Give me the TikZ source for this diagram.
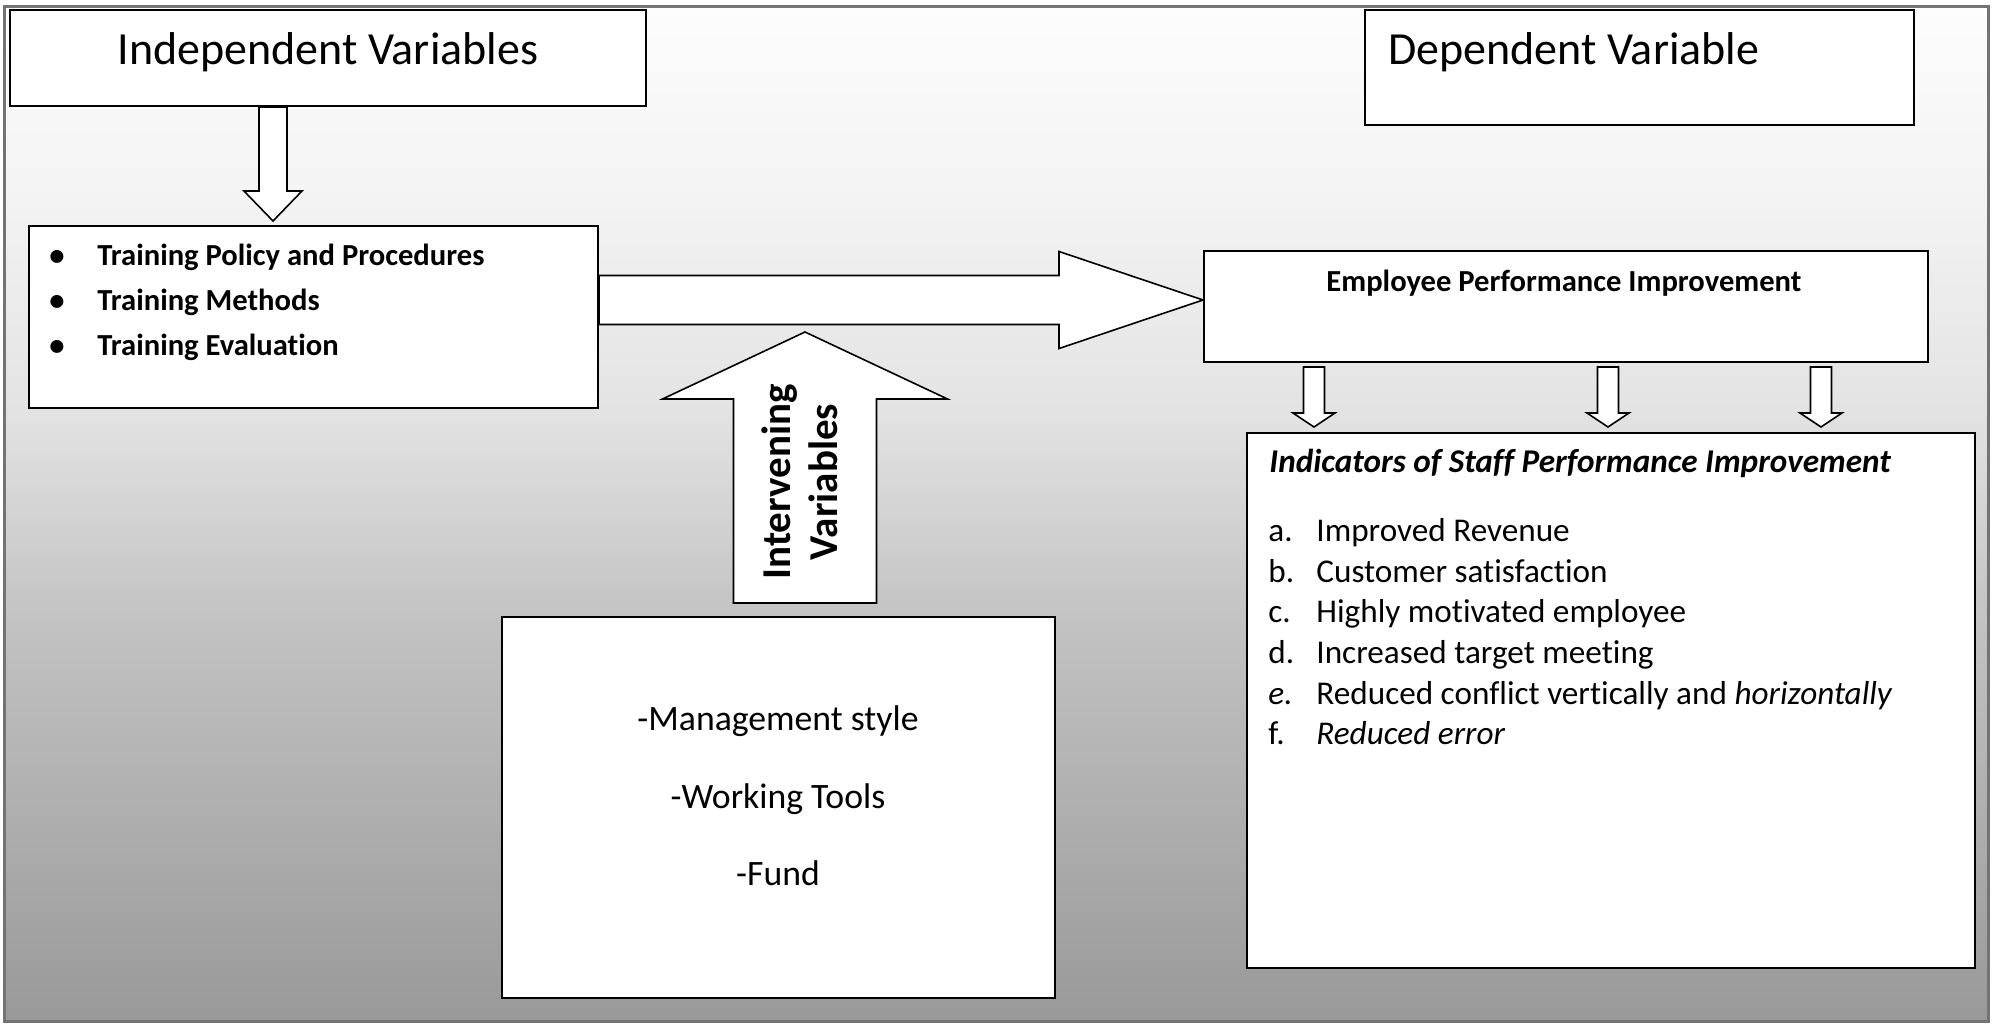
\documentclass[tikz,border=0pt]{standalone}
\usepackage{fontspec}
\setmainfont{Carlito}[Ligatures=NoCommon]
\usetikzlibrary{calc}
\definecolor{bgA}{HTML}{999999}
\definecolor{bgB}{HTML}{C3C3C3}
\definecolor{bgC}{HTML}{E3E3E3}
\definecolor{bgD}{HTML}{F3F3F3}
\definecolor{bgE}{HTML}{FDFDFD}
\pgfdeclareverticalshading{panelshade}{100bp}{color(0bp)=(bgA); color(25bp)=(bgA); color(45bp)=(bgB); color(55.1bp)=(bgC); color(65.5bp)=(bgD); color(75bp)=(bgE); color(100bp)=(bgE)}
\tikzset{
  box/.style={draw=black, line width=1pt, fill=white, inner sep=0pt, anchor=north west},
  blk/.style={draw=black, line width=0.8pt, fill=white, line join=miter},
  txt/.style={inner sep=0pt},
  ftitle/.style={txt, font=\fontsize{23pt}{27pt}\selectfont},
  fbold/.style={txt, font=\fontsize{15.3pt}{18pt}\selectfont\bfseries},
  flist/.style={txt, font=\fontsize{16.6pt}{20pt}\selectfont},
  fmid/.style={txt, font=\fontsize{17.85pt}{21pt}\selectfont},
}
% vertical block arrow: start, tip, shaft half width, head half width, signed head length
\newcommand\VArrow[5]{%
  \draw[blk] let \p1=(#1), \p2=(#2) in
   ({\x1-#3},\y1) -- ({\x1-#3},{\y2+(#5)}) -- ({\x1-#4},{\y2+(#5)}) -- (\x2,\y2)
   -- ({\x1+#4},{\y2+(#5)}) -- ({\x1+#3},{\y2+(#5)}) -- ({\x1+#3},\y1) -- cycle;}
% horizontal block arrow
\newcommand\HArrow[5]{%
  \draw[blk] let \p1=(#1), \p2=(#2) in
   (\x1,{\y1-#3}) -- ({\x2-(#5)},{\y1-#3}) -- ({\x2-(#5)},{\y1-#4}) -- (\x2,\y2)
   -- ({\x2-(#5)},{\y1+#4}) -- ({\x2-(#5)},{\y1+#3}) -- (\x1,{\y1+#3}) -- cycle;}
\begin{document}
\begin{tikzpicture}[x=0.5pt, y=-0.5pt]
\useasboundingbox (0,0) rectangle (1992,1024);
% background panel
\shade[shading=panelshade] (4,6) rectangle (1988,1021);
\draw[black!55, line width=1.5pt] (4,6) rectangle (1988,1021);

% boxes
\node[box, minimum width=318pt, minimum height=48pt] (iv) at (9,9) {};
\node[box, minimum width=274.5pt, minimum height=57.5pt] (dv) at (1364,9) {};
\node[box, minimum width=284.5pt, minimum height=91pt] (train) at (28,225) {};
\node[box, minimum width=362pt, minimum height=55.5pt] (epi) at (1203,250) {};
\node[box, minimum width=364pt, minimum height=267.5pt] (ind) at (1246,432) {};
\node[box, minimum width=276.5pt, minimum height=190.5pt] (bot) at (501,616) {};

% texts
\node[ftitle, anchor=base] (ivt) at (328,64) {Independent Variables};
\node[ftitle, anchor=base west] (dvt) at (1388,64) {Dependent Variable};

\node[fbold, anchor=base] (b1) at (57,265) {•};
\node[fbold, anchor=base west] (t1) at (97,265) {Training Policy and Procedures};
\node[fbold, anchor=base] (b2) at (57,310) {•};
\node[fbold, anchor=base west] (t2) at (97,310) {Training Methods};
\node[fbold, anchor=base] (b3) at (57,355) {•};
\node[fbold, anchor=base west] (t3) at (97,355) {Training Evaluation};

\node[fbold, anchor=base] (epit) at (1564,291) {Employee Performance Improvement};

\node[flist, anchor=base west, font=\fontsize{16.6pt}{20pt}\selectfont\bfseries\itshape] (indh) at (1269,472) {Indicators of Staff Performance Improvement};
\node[flist, anchor=base west] (la) at (1268,541) {a.};
\node[flist, anchor=base west] (ia) at (1316,541) {Improved Revenue};
\node[flist, anchor=base west] (lb) at (1268,582) {b.};
\node[flist, anchor=base west] (ib) at (1316,582) {Customer satisfaction};
\node[flist, anchor=base west] (lc) at (1268,622) {c.};
\node[flist, anchor=base west] (ic) at (1316,622) {Highly motivated employee};
\node[flist, anchor=base west] (ld) at (1268,663) {d.};
\node[flist, anchor=base west] (id) at (1316,663) {Increased target meeting};
\node[flist, anchor=base west] (le) at (1268,704) {\textit{e.}};
\node[flist, anchor=base west] (ie) at (1316,704) {Reduced conflict vertically and \textit{horizontally}};
\node[flist, anchor=base west] (lf) at (1268,744) {f.};
\node[flist, anchor=base west] (if) at (1316,744) {\textit{Reduced error}};

\node[fmid, anchor=base] (m1) at (778,730) {-Management style};
\node[fmid, anchor=base] (m2) at (778,808) {-Working Tools};
\node[fmid, anchor=base] (m3) at (778,885) {-Fund};

% arrows
\path (iv.south west) ++(264,0) coordinate (a1s);
\path (a1s |- train.north) ++(0,-4) coordinate (a1e);
\VArrow{a1s}{a1e}{7pt}{14.5pt}{15pt}

\path (train.east) ++(0,-17) coordinate (a2s);
\path (a2s -| epi.west) coordinate (a2e);
\HArrow{a2s}{a2e}{12.25pt}{24.25pt}{72pt}

\path (epi.south west) ++(111,4) coordinate (a3s);
\path (a3s |- ind.north) ++(0,-5) coordinate (a3e);
\VArrow{a3s}{a3e}{5.25pt}{10.5pt}{7pt}
\path (epi.south west) ++(405,4) coordinate (a4s);
\path (a4s |- ind.north) ++(0,-5) coordinate (a4e);
\VArrow{a4s}{a4e}{5.25pt}{10.5pt}{7pt}
\path (epi.south west) ++(618,4) coordinate (a5s);
\path (a5s |- ind.north) ++(0,-5) coordinate (a5e);
\VArrow{a5s}{a5e}{5.25pt}{10.5pt}{7pt}

\path (bot.north west) ++(304,-13) coordinate (a6s);
\path (a6s) ++(0,-271) coordinate (a6e);
\VArrow{a6s}{a6e}{35.75pt}{71.25pt}{-33.5pt}
\node[txt, rotate=90, align=center, font=\fontsize{20.5pt}{23.5pt}\selectfont\bfseries] (ivar) at (800,482) {Intervening\\Variables};
\end{tikzpicture}
\end{document}
